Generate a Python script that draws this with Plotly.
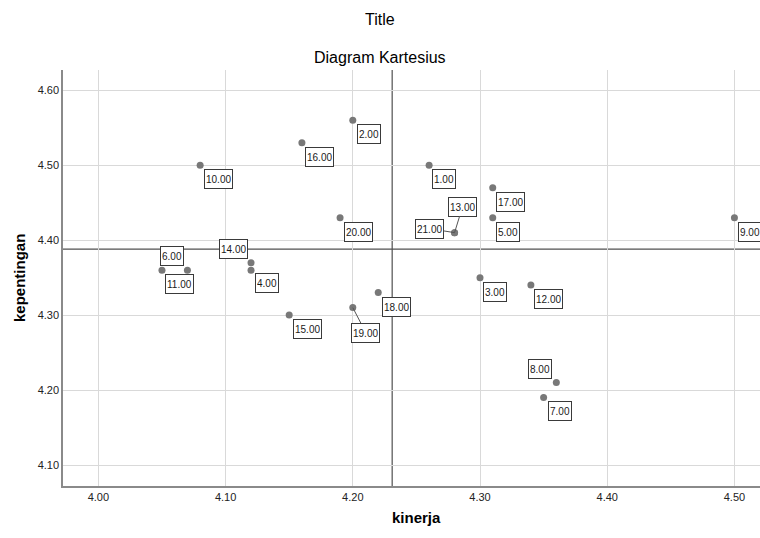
import plotly.graph_objects as go

# ---- data ----
case_labels = ["1.00", "2.00", "3.00", "4.00", "5.00", "6.00", "7.00", "8.00", "9.00", "10.00",
               "11.00", "12.00", "13.00", "14.00", "15.00", "16.00", "17.00", "18.00", "19.00",
               "20.00", "21.00"]
kinerja = [4.26, 4.20, 4.30, 4.12, 4.31, 4.07, 4.35, 4.36, 4.50, 4.08,
           4.05, 4.34, 4.28, 4.12, 4.15, 4.16, 4.31, 4.22, 4.20, 4.19, 4.28]
kepentingan = [4.50, 4.56, 4.35, 4.36, 4.43, 4.36, 4.19, 4.21, 4.43, 4.50,
               4.36, 4.34, 4.41, 4.37, 4.30, 4.53, 4.47, 4.33, 4.31, 4.43, 4.41]
x_ticks = [4.00, 4.10, 4.20, 4.30, 4.40, 4.50]
y_ticks = [4.10, 4.20, 4.30, 4.40, 4.50, 4.60]

# label box offsets (pixels, centre of box relative to the point)
label_offsets = {
    "1.00": (15, 14), "2.00": (16, 14), "3.00": (15, 14), "4.00": (16, 13),
    "5.00": (15, 14), "6.00": (-15, -14), "7.00": (16, 13), "8.00": (-16, -14),
    "9.00": (16, 14), "10.00": (18, 14), "11.00": (18, 14), "12.00": (18, 14),
    "13.00": (8, -26), "14.00": (-18, -14), "15.00": (18, 14), "16.00": (18, 14),
    "17.00": (18, 14), "18.00": (18, 14), "19.00": (13, 25), "20.00": (18, 14),
    "21.00": (-25, -4),
}
leader_lines = {"13.00", "19.00", "21.00"}

W, H = 760, 538
ML, MR, MT, MB = 63, 0, 70, 52
plot_h = H - MT - MB
plot_w = W - ML - MR

mean_x = sum(kinerja) / len(kinerja)
mean_y = sum(kepentingan) / len(kepentingan)

fig = go.Figure()
fig.add_trace(go.Scatter(
    x=kinerja, y=kepentingan, mode="markers",
    marker=dict(color="#787878", size=7),
    hoverinfo="skip", showlegend=False,
))

ref_line = dict(color="#505050", width=1.2)
fig.add_shape(type="line", xref="x", yref="paper", x0=mean_x, x1=mean_x, y0=0, y1=1,
              line=ref_line, layer="between")
fig.add_shape(type="line", xref="paper", yref="y", x0=0, x1=1, y0=mean_y, y1=mean_y,
              line=ref_line, layer="between")

label_font = dict(family="Liberation Sans, Arial", size=10, color="#1a1a1a")
box_style = dict(bgcolor="white", bordercolor="#3a3a3a", borderwidth=1, borderpad=1,
                 height=16, font=label_font)
for lab, xv, yv in zip(case_labels, kinerja, kepentingan):
    ax, ay = label_offsets[lab]
    if lab in leader_lines:
        fig.add_annotation(
            x=xv, y=yv, xref="x", yref="y", text=lab,
            showarrow=True, arrowhead=0, arrowwidth=1, arrowcolor="#555555",
            ax=ax, ay=ay, standoff=0, **box_style,
        )
    else:
        fig.add_annotation(
            x=xv, y=yv, xref="x", yref="y", text=lab, showarrow=False,
            xshift=ax, yshift=-ay, xanchor="center", yanchor="middle", **box_style,
        )

title_font = dict(family="Liberation Sans, Arial", size=16, color="#000000")
cx = (W / 2 - ML) / plot_w
fig.add_annotation(text="Title", xref="paper", yref="paper", x=cx,
                   y=1 + (MT - 19) / plot_h, showarrow=False, font=title_font,
                   xanchor="center", yanchor="middle")
fig.add_annotation(text="Diagram Kartesius", xref="paper", yref="paper", x=cx,
                   y=1 + (MT - 57) / plot_h, showarrow=False, font=title_font,
                   xanchor="center", yanchor="middle")

axis_title_font = dict(family="Liberation Sans, Arial", size=15, color="#000000")
fig.add_annotation(text="<b>kinerja</b>", xref="paper", yref="paper",
                   x=(416 - ML) / plot_w, y=-(517 - (H - MB)) / plot_h, showarrow=False,
                   font=axis_title_font, xanchor="center", yanchor="middle")
fig.add_annotation(text="<b>kepentingan</b>", xref="paper", yref="paper",
                   x=-(ML - 19) / plot_w, y=0.5, showarrow=False, textangle=-90,
                   font=axis_title_font, xanchor="center", yanchor="middle")

tick_font = dict(family="Liberation Sans, Arial", size=11, color="#222222")
fig.update_xaxes(
    range=[3.9722, 4.5201], tickvals=x_ticks, tickformat=".2f",
    showgrid=True, gridcolor="#d9d9d9", gridwidth=1, zeroline=False,
    showline=True, linecolor="#8a8a8a", linewidth=1.5, ticks="", ticklen=0,
    tickfont=tick_font, fixedrange=True,
)
fig.update_yaxes(
    range=[4.0720, 4.6270], tickvals=y_ticks, tickformat=".2f",
    showgrid=True, gridcolor="#d9d9d9", gridwidth=1, zeroline=False,
    showline=True, linecolor="#8a8a8a", linewidth=1.5, ticks="", ticklen=0,
    tickfont=tick_font, fixedrange=True,
)
fig.update_layout(
    width=W, height=H,
    margin=dict(l=ML, r=MR, t=MT, b=MB, pad=0),
    paper_bgcolor="white", plot_bgcolor="white",
    showlegend=False,
)

fig.write_html("out.html", config={"displayModeBar": False},
               post_script="document.body.style.margin='0';document.body.style.overflow='hidden';")
